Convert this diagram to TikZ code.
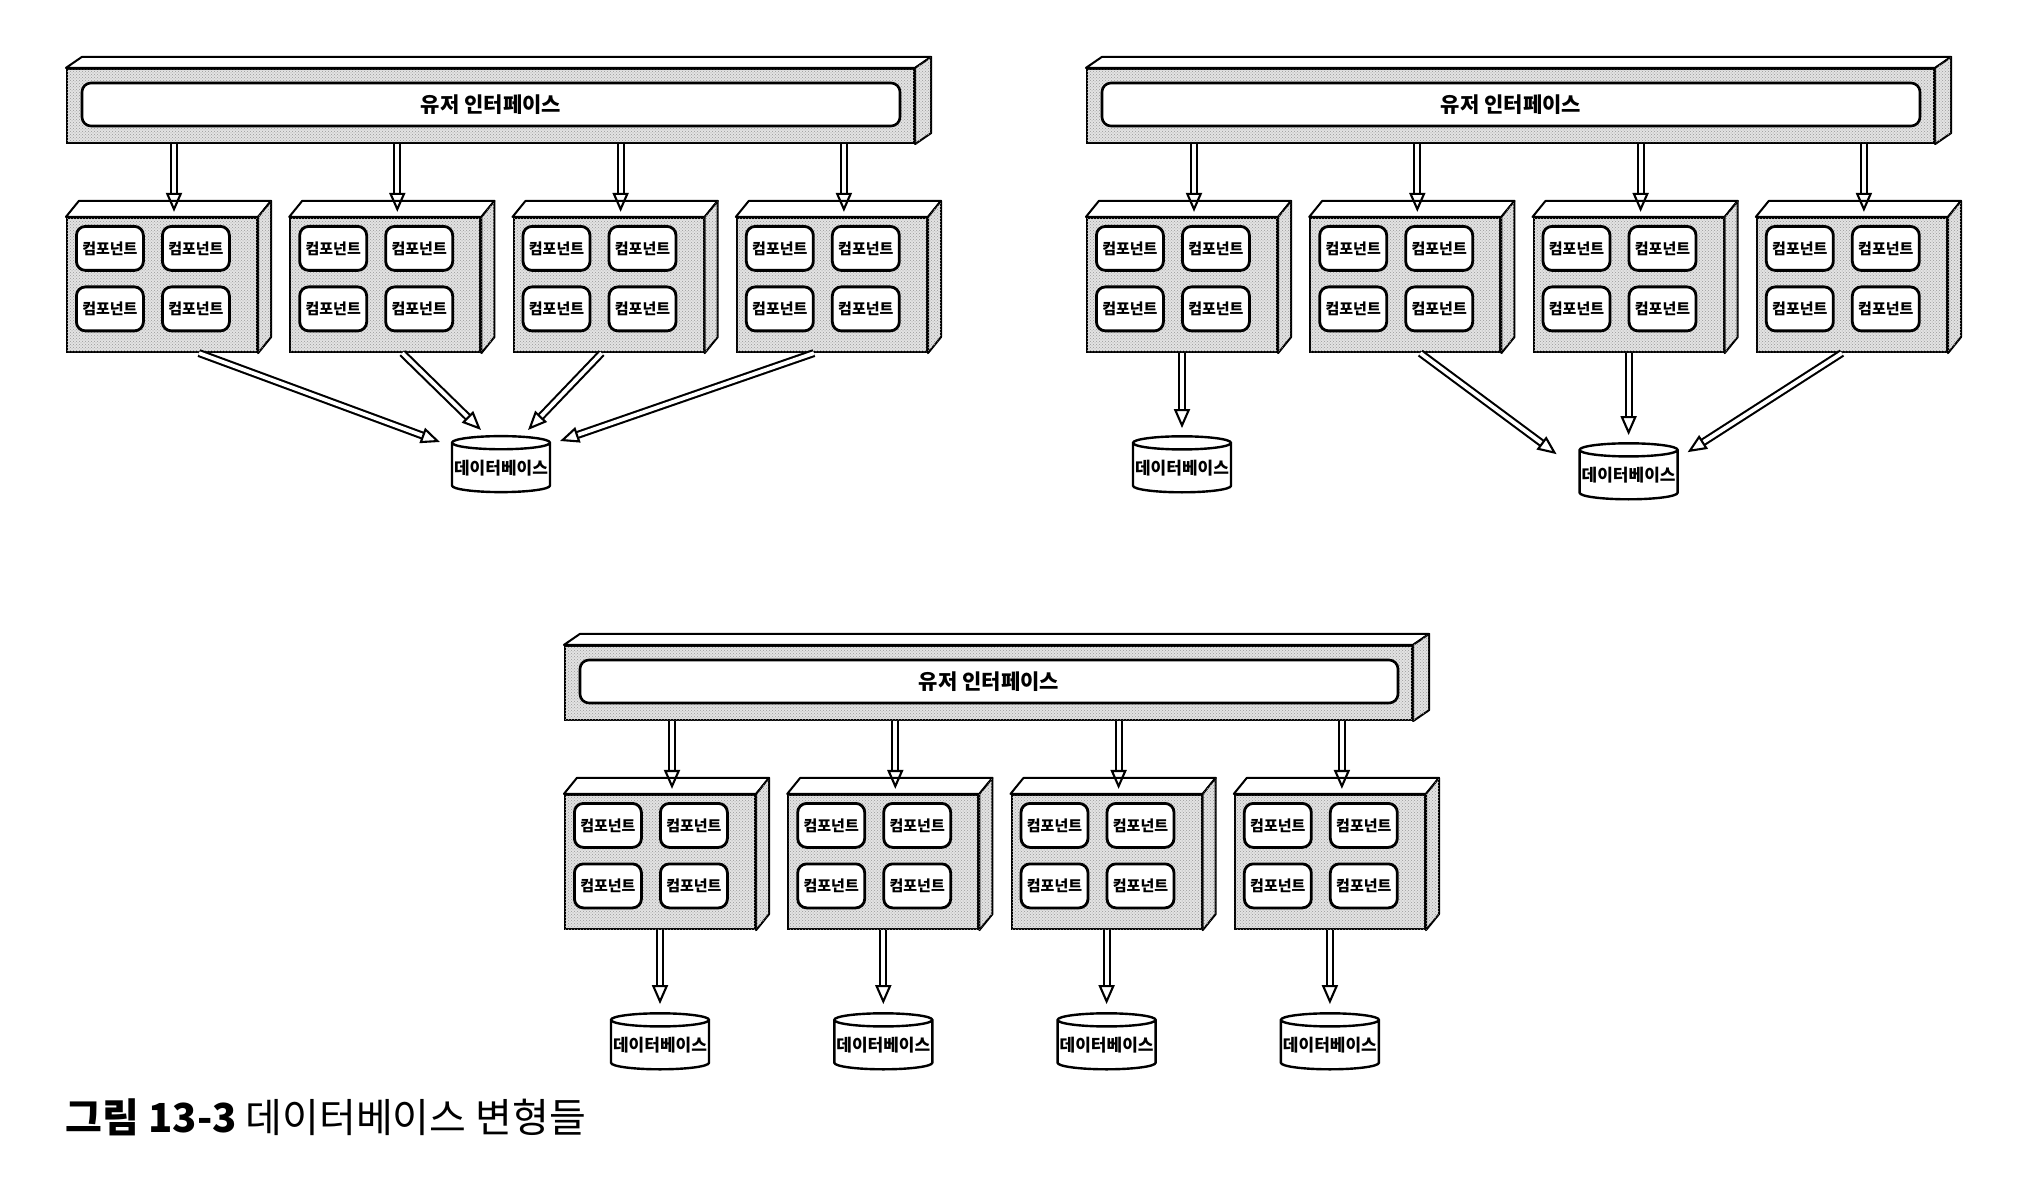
\documentclass[tikz,border=0pt]{standalone}
\usepackage{fontspec}
\setmainfont{Noto Sans CJK KR}
\usetikzlibrary{shapes.geometric, arrows.meta, positioning, calc, patterns}

\tikzset{
  stipple/.style={fill=gray!22, postaction={pattern=crosshatch dots, pattern color=gray!80}},
  uibar/.style={draw, line width=2.2pt, stipple, minimum width=847pt, minimum height=74pt, inner sep=0pt},
  uiinner/.style={draw, line width=2.6pt, fill=white, rounded corners=9pt, minimum width=818pt, minimum height=43pt, inner sep=0pt, font=\fontsize{21}{24}\selectfont\bfseries},
  modbox/.style={draw, line width=2.2pt, stipple, minimum width=190pt, minimum height=134pt, inner sep=0pt},
  topface/.style={draw, line width=2pt, fill=white, line join=round},
  sideface/.style={draw, line width=2pt, stipple, line join=round},
  comp/.style={draw, line width=2.8pt, fill=white, rounded corners=9pt, minimum width=67pt, minimum height=44pt, inner sep=0pt, font=\fontsize{15}{17}\selectfont\bfseries},
  dbcyl/.style={draw, line width=2.4pt, fill=white, cylinder, shape border rotate=90, aspect=0.14, minimum width=98pt, minimum height=56pt, inner sep=0pt, font=\fontsize{17}{19}\selectfont\bfseries},
  dblarrow/.style={double, double distance=3.8pt, line width=2.1pt, -{Triangle[open, length=19pt, width=16pt, line width=2.1pt]}},
}

\begin{document}
\begin{tikzpicture}[x=1pt, y=-1pt]
  \useasboundingbox (0,0) rectangle (2024,1198);

  % three panels: user interface bar and four module boxes
  \foreach \p/\ox/\oy in {1/0/0, 2/1020/0, 3/498/577} {
    \begin{scope}[shift={(\ox,\oy)}]
      \node[uibar] (p\p ui) at (490.5,106) {};
      \draw[topface] (p\p ui.north west) -- ++(16,-11) -- ($(p\p ui.north east)+(16,-11)$) -- (p\p ui.north east) -- cycle;
      \draw[sideface] (p\p ui.north east) -- ++(16,-11) -- ($(p\p ui.south east)+(16,-11)$) -- (p\p ui.south east) -- cycle;
      \node[uiinner] (p\p uin) at (491,104.5) {유저 인터페이스};

      \foreach \i in {1,...,4} {
        \node[modbox] (p\p b\i) at ({162+223.3*(\i-1)},285) {};
        \draw[topface] (p\p b\i.north west) -- ++(13,-16) -- ($(p\p b\i.north east)+(13,-16)$) -- (p\p b\i.north east) -- cycle;
        \draw[sideface] (p\p b\i.north east) -- ++(13,-16) -- ($(p\p b\i.south east)+(13,-16)$) -- (p\p b\i.south east) -- cycle;
        \node[comp] (p\p b\i c1) at ($(p\p b\i.north west)+(44,31.5)$) {컴포넌트};
        \node[comp] (p\p b\i c2) at ($(p\p b\i.north west)+(130,31.5)$) {컴포넌트};
        \node[comp] (p\p b\i c3) at ($(p\p b\i.north west)+(44,92)$) {컴포넌트};
        \node[comp] (p\p b\i c4) at ($(p\p b\i.north west)+(130,92)$) {컴포넌트};
        \draw[dblarrow] ($(p\p ui.south -| p\p b\i.north)+(12,0)$) -- ($(p\p b\i.north)+(12,-5)$);
      }
    \end{scope}
  }

  % panel 1: one shared database
  \node[dbcyl] (p1db) at (501,468) {데이터베이스};
  \draw[dblarrow] ([xshift=37pt]p1b1.south) -- ($(p1db)+(-61,-26)$);
  \draw[dblarrow] ([xshift=17pt]p1b2.south) -- ($(p1db)+(-20,-38)$);
  \draw[dblarrow] ([xshift=-7pt]p1b3.south) -- ($(p1db)+(27,-38)$);
  \draw[dblarrow] ([xshift=-18pt]p1b4.south) -- ($(p1db)+(59,-27)$);

  % panel 2: one own database, one shared by three
  \node[dbcyl, below=82pt of p2b1] (p2db1) {데이터베이스};
  \node[dbcyl, below=89pt of p2b3] (p2db2) {데이터베이스};
  \draw[dblarrow] (p2b1.south) -- ([yshift=7pt]p2db1.north);
  \draw[dblarrow] ([xshift=15pt]p2b2.south) -- ($(p2db2)+(-72,-21)$);
  \draw[dblarrow] (p2b3.south) -- ([yshift=7pt]p2db2.north);
  \draw[dblarrow] ([xshift=-10pt]p2b4.south) -- ($(p2db2)+(59,-23)$);

  % panel 3: a database for each module
  \foreach \i in {1,...,4} {
    \node[dbcyl, below=82pt of p3b\i] (p3db\i) {데이터베이스};
    \draw[dblarrow] (p3b\i.south) -- ([yshift=8pt]p3db\i.north);
  }

  \node[anchor=west, font=\fontsize{40}{46}\selectfont] (caption) at (62,1117) {\textbf{그림 13-3} 데이터베이스 변형들};
\end{tikzpicture}
\end{document}
